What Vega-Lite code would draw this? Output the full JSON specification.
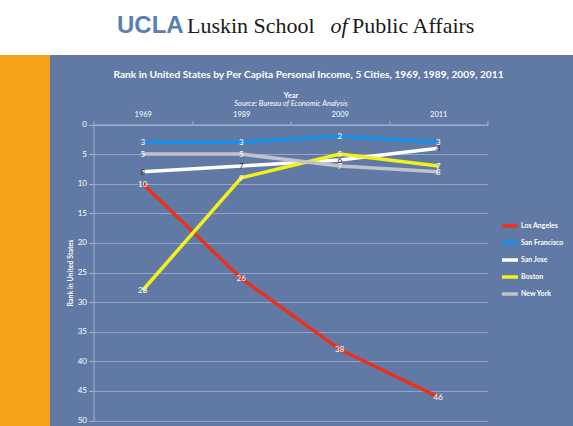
{
  "$schema": "https://vega.github.io/schema/vega-lite/v6.json",
  "background": "#617aa5",
  "padding": 0,
  "spacing": 0,
  "datasets": {
    "header": [
      {"word": "UCLA"},
      {"word": "Luskin School"},
      {"word": "of"},
      {"word": "Public Affairs"}
    ],
    "ranks": [
      {"city": "Los Angeles", "year": "1969", "rank": 10},
      {"city": "Los Angeles", "year": "1989", "rank": 26},
      {"city": "Los Angeles", "year": "2009", "rank": 38},
      {"city": "Los Angeles", "year": "2011", "rank": 46},
      {"city": "San Francisco", "year": "1969", "rank": 3},
      {"city": "San Francisco", "year": "1989", "rank": 3},
      {"city": "San Francisco", "year": "2009", "rank": 2},
      {"city": "San Francisco", "year": "2011", "rank": 3},
      {"city": "San Jose", "year": "1969", "rank": 8},
      {"city": "San Jose", "year": "1989", "rank": 7},
      {"city": "San Jose", "year": "2009", "rank": 6},
      {"city": "San Jose", "year": "2011", "rank": 4},
      {"city": "Boston", "year": "1969", "rank": 28},
      {"city": "Boston", "year": "1989", "rank": 9},
      {"city": "Boston", "year": "2009", "rank": 5},
      {"city": "Boston", "year": "2011", "rank": 7},
      {"city": "New York", "year": "1969", "rank": 5},
      {"city": "New York", "year": "1989", "rank": 5},
      {"city": "New York", "year": "2009", "rank": 7},
      {"city": "New York", "year": "2011", "rank": 8}
    ]
  },
  "vconcat": [
    {
      "width": 573,
      "height": 55,
      "view": {"fill": "white", "stroke": null},
      "data": {"name": "header"},
      "layer": [
        {
          "transform": [{"filter": "datum.word === 'UCLA'"}],
          "mark": {"type": "text", "align": "left", "baseline": "alphabetic", "dx": -169.5, "dy": 5.5, "font": "Liberation Sans", "fontWeight": "bold", "fontSize": 24, "color": "#5a7fae"},
          "encoding": {"text": {"field": "word"}}
        },
        {
          "transform": [{"filter": "datum.word === 'Luskin School'"}],
          "mark": {"type": "text", "align": "left", "baseline": "alphabetic", "dx": -99.5, "dy": 5.5, "font": "Liberation Serif", "fontSize": 22, "color": "#1a1a1a"},
          "encoding": {"text": {"field": "word"}}
        },
        {
          "transform": [{"filter": "datum.word === 'of'"}],
          "mark": {"type": "text", "align": "left", "baseline": "alphabetic", "dx": 44, "dy": 5.5, "font": "Liberation Serif", "fontStyle": "italic", "fontSize": 22, "color": "#1a1a1a"},
          "encoding": {"text": {"field": "word"}}
        },
        {
          "transform": [{"filter": "datum.word === 'Public Affairs'"}],
          "mark": {"type": "text", "align": "left", "baseline": "alphabetic", "dx": 65.5, "dy": 5.5, "font": "Liberation Serif", "fontSize": 22, "color": "#1a1a1a"},
          "encoding": {"text": {"field": "word"}}
        }
      ]
    },
    {
      "spacing": 15.5,
      "hconcat": [
        {
          "width": 50,
          "height": 371,
          "view": {"fill": "#f7a21b", "stroke": null},
          "data": {"values": [{}]},
          "mark": {"type": "text", "text": ""},
          "encoding": {}
        },
        {
          "width": 394,
          "height": 365.5,
          "view": {"stroke": null},
          "data": {"name": "ranks"},
          "title": {
            "text": "Rank in United States by Per Capita Personal Income, 5 Cities, 1969, 1989, 2009, 2011",
            "font": "Lato",
            "fontSize": 10.2,
            "fontWeight": "bold",
            "color": "white",
            "offset": -25,
            "dx": 18,
            "anchor": "middle"
          },
          "encoding": {
            "y": {
              "field": "rank",
              "type": "quantitative",
              "scale": {"domain": [0, 50], "range": [69.5, 365.5], "nice": false},
              "axis": {
                "title": "Rank in United States",
                "titleFont": "Lato",
                "titleFontSize": 7,
                "titleFontWeight": "bold",
                "titleColor": "white",
                "titlePadding": 4,
                "values": [0, 5, 10, 15, 20, 25, 30, 35, 40, 45, 50],
                "labelFont": "Lato",
                "labelFontSize": 8,
                "labelColor": "white",
                "labelPadding": 2,
                "tickSize": 5,
                "tickColor": "#a3b2cf",
                "domainColor": "#a3b2cf",
                "gridColor": "#93a5c6",
                "gridWidth": 1
              }
            }
          },
          "layer": [
            {
              "mark": {"type": "line", "strokeWidth": 3.5},
              "encoding": {
                "x": {
                  "field": "year",
                  "type": "ordinal",
                  "bandPosition": 0.5,
                  "scale": {"type": "band", "paddingInner": 0, "paddingOuter": 0},
                  "axis": {"orient": "top", "offset": -69.5, "title": "Year", "titleFont": "Lato", "titleFontSize": 7.5, "titleFontWeight": "bold", "titleColor": "white", "titlePadding": 25, "labels": false, "ticks": false, "domain": false, "grid": false}
                },
                "color": {
                  "field": "city",
                  "type": "nominal",
                  "scale": {
                    "domain": ["Los Angeles", "San Francisco", "San Jose", "Boston", "New York"],
                    "range": ["#e8321e", "#1b8fe8", "#ffffff", "#f2f21a", "#c0c3cc"]
                  },
                  "legend": {
                    "title": null,
                    "orient": "none",
                    "legendX": 500,
                    "legendY": 216,
                    "symbolType": "stroke",
                    "symbolStrokeWidth": 3.5,
                    "symbolSize": 256,
                    "labelFont": "Lato",
                    "labelFontSize": 7,
                    "labelFontWeight": "bold",
                    "labelColor": "white",
                    "labelOffset": 1,
                    "rowPadding": -2.5
                  }
                }
              }
            },
            {
              "mark": {"type": "text", "font": "Lato", "fontSize": 8, "baseline": "middle", "dy": 1},
              "encoding": {
                "x": {
                  "field": "year",
                  "type": "ordinal",
                  "bandPosition": 0.5,
                  "axis": {
                    "orient": "top",
                    "offset": -69.5,
                    "title": "Source: Bureau of Economic Analysis",
                    "titleFont": "Lato",
                    "titleFontSize": 7.5,
                    "titleFontStyle": "italic",
                    "titleFontWeight": "normal",
                    "titleColor": "white",
                    "titlePadding": 3,
                    "labelAngle": 0,
                    "labelFont": "Lato",
                    "labelFontSize": 7.5,
                    "labelColor": "white",
                    "labelPadding": 2,
                    "tickBand": "extent",
                    "tickSize": 4,
                    "tickColor": "#a3b2cf",
                    "domainColor": "#a3b2cf",
                    "grid": false
                  }
                },
                "text": {"field": "rank"},
                "color": {"condition": {"test": "datum.city === 'San Jose'", "value": "#333333"}, "value": "white"}
              }
            }
          ],
          "resolve": {"axis": {"x": "independent"}}
        }
      ]
    }
  ]
}
